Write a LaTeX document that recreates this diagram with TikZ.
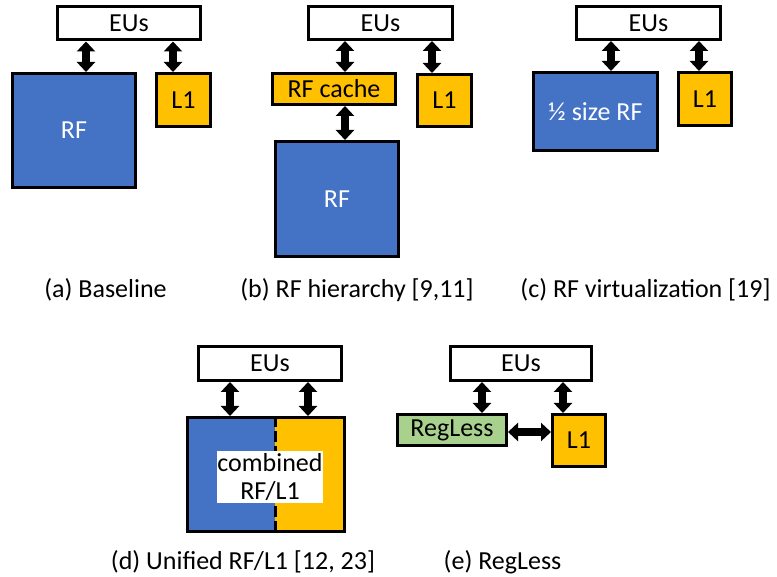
\documentclass[tikz,border=0pt]{standalone}
\usepackage{fontspec}
\setmainfont{Carlito}
\usetikzlibrary{arrows.meta}
\definecolor{rfblue}{HTML}{4472C4}
\definecolor{l1orange}{HTML}{FFC000}
\definecolor{rlgreen}{HTML}{A9D18E}
\tikzset{
  lbl/.style={font=\fontsize{26}{27.5}\selectfont},
  blk/.style={lbl, draw=black, line width=3pt, inner sep=0pt, rectangle},
  eubox/.style={blk, fill=white, minimum width=143pt, minimum height=33pt},
  rfbox/.style={blk, fill=rfblue, text=white},
  l1box/.style={blk, fill=l1orange, minimum width=54pt, minimum height=53pt},
  dbl/.style={line width=8pt, {Triangle[width=18pt,length=10pt]}-{Triangle[width=18pt,length=10pt]}},
  captxt/.style={lbl, anchor=base, inner sep=0pt},
}
\begin{document}
\begin{tikzpicture}[x=1pt,y=-1pt]
\useasboundingbox (0,0) rectangle (777,577);

% (a) baseline
\node[eubox] (eua) at (129,23.5) {EUs};
\node[rfbox, minimum width=123pt, minimum height=114pt] (rfa) at (74,130.5) {RF};
\node[l1box] (l1a) at (183.5,100) {L1};
\draw[dbl] ([xshift=12pt]rfa.north |- eua.south) -- ([xshift=12pt]rfa.north);
\draw[dbl] ([xshift=-10.5pt]l1a.north |- eua.south) -- ([xshift=-10.5pt]l1a.north);
\node[captxt] (capa) at (105.5,298) {(a) Baseline};

% (b) RF hierarchy
\node[eubox, minimum width=144pt] (eub) at (380.5,23) {EUs};
\node[blk, fill=l1orange, minimum width=123pt, minimum height=31pt] (rfc) at (334,89) {RF cache};
\node[l1box, minimum height=52pt] (l1b) at (444.5,100.5) {L1};
\node[rfbox, minimum width=123pt, minimum height=115pt] (rfb) at (337,199) {RF};
\draw[dbl] ([xshift=11pt]rfc.north |- eub.south) -- ([xshift=11pt]rfc.north);
\draw[dbl] ([xshift=11pt]rfc.south) -- ([xshift=11pt]rfc.south |- rfb.north);
\draw[dbl] ([xshift=-12.5pt]l1b.north |- eub.south) -- ([xshift=-12.5pt]l1b.north);
\node[captxt] (capb) at (357,298) {(b) RF hierarchy [9,11]};

% (c) RF virtualization
\node[eubox, minimum width=144pt] (euc) at (648.5,23) {EUs};
\node[rfbox, minimum width=124pt, minimum height=78pt] (rfh) at (595.5,111.5) {½ size RF};
\node[l1box, minimum width=53pt] (l1c) at (705,99) {L1};
\draw[dbl] ([xshift=15.5pt]rfh.north |- euc.south) -- ([xshift=15.5pt]rfh.north);
\draw[dbl] ([xshift=-6pt]l1c.north |- euc.south) -- ([xshift=-6pt]l1c.north);
\node[captxt] (capc) at (645.5,298) {(c) RF virtualization [19]};

% (d) unified RF/L1: blue left part, orange right part, dashed split
\node[eubox, minimum height=34pt] (eud) at (270,363.5) {EUs};
\node[blk, fill=l1orange, minimum width=157pt, minimum height=114pt,
      path picture={\fill[rfblue] (path picture bounding box.south west)
        rectangle ([xshift=9pt]path picture bounding box.north);}] (ud) at (266,474.5) {};
\draw[line width=3pt, dash pattern=on 11pt off 4pt] ([xshift=9pt]ud.north) -- ([xshift=9pt]ud.south);
\node[lbl, fill=white, inner sep=0pt, minimum width=96pt, minimum height=52pt, align=center] (udt) at (270,477) {combined\\RF/L1};
\draw[dbl] ([xshift=-36pt]ud.north |- eud.south) -- ([xshift=-36pt]ud.north);
\draw[dbl] ([xshift=42pt]ud.north |- eud.south) -- ([xshift=42pt]ud.north);
\node[captxt] (capd) at (243,569) {(d) Unified RF/L1 [12, 23]};

% (e) RegLess
\node[eubox, minimum width=141pt, minimum height=34pt] (eue) at (521,363.5) {EUs};
\node[blk, fill=rlgreen, minimum width=109pt, minimum height=31pt] (rl) at (452,430) {RegLess};
\node[l1box, minimum width=53pt, minimum height=52pt] (l1e) at (579,440.5) {L1};
\draw[dbl] ([xshift=30pt]rl.north |- eue.south) -- ([xshift=30pt]rl.north);
\draw[dbl] ([xshift=-16pt]l1e.north |- eue.south) -- ([xshift=-16pt]l1e.north);
\draw[dbl] ([yshift=-2pt]rl.east) -- ([yshift=-2pt]rl.east -| l1e.west);
\node[captxt] (cape) at (502.5,569) {(e) RegLess};
\end{tikzpicture}
\end{document}
